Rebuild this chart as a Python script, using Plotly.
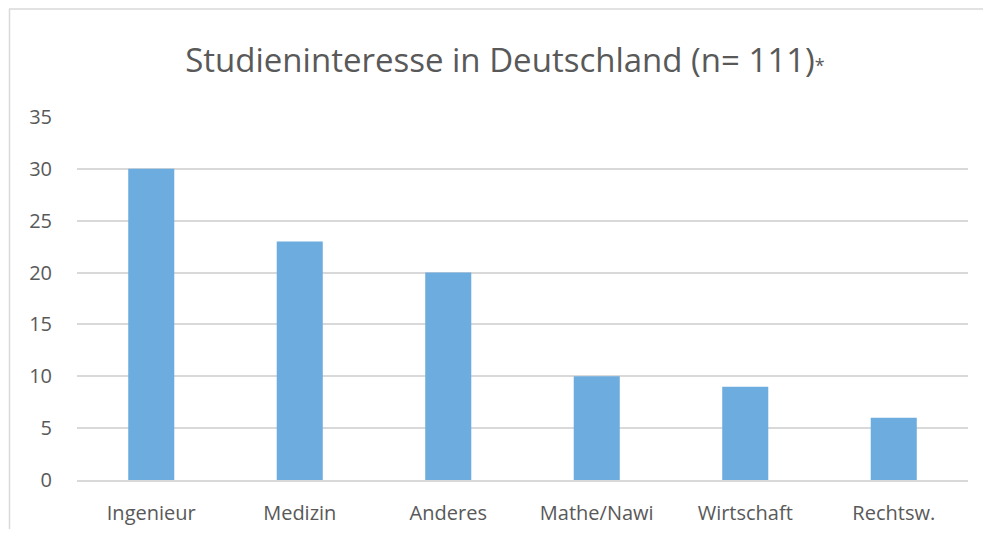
import plotly.graph_objects as go

categories = ["Ingenieur", "Medizin", "Anderes", "Mathe/Nawi", "Wirtschaft", "Rechtsw."]
values = [30, 23, 20, 10, 9, 6]
y_ticks = [0, 5, 10, 15, 20, 25, 30, 35]

W, H = 983, 521
L, R, T, B = 69, 23, 109, 49
pw, ph = W - L - R, H - T - B

fig = go.Figure(go.Bar(x=categories, y=values, marker_color="#6DACDE", width=0.31,
                       marker_line_width=0))

fig.update_layout(
    width=W, height=H,
    paper_bgcolor="white", plot_bgcolor="white",
    margin=dict(l=L, r=R, t=T, b=B, autoexpand=False),
    font=dict(family="Open Sans", color="#595959", size=20),
    title=dict(text="Studieninteresse in Deutschland (n= 111)<span style='font-size:18px'>*</span>",
               x=497 / W, xanchor="center", xref="container", y=1 - 52 / H, yanchor="middle",
               font=dict(size=33, color="#595959", family="Open Sans")),
    showlegend=False,
    shapes=[
        dict(type="line", xref="paper", yref="paper", x0=(1 - L) / pw, x1=(W - L) / pw,
             y0=(H - B - 1) / ph, y1=(H - B - 1) / ph, line=dict(color="#D9D9D9", width=1.5)),
        dict(type="line", xref="paper", yref="paper", x0=(1.5 - L) / pw, x1=(1.5 - L) / pw,
             y0=-B / ph, y1=(H - B - 1) / ph, line=dict(color="#D9D9D9", width=1.5)),
    ],
)
fig.update_yaxes(range=[0, 35], tickvals=y_ticks, showgrid=True, gridcolor="#D9D9D9", gridwidth=1.5,
                 zeroline=False, showline=False, ticklabelstandoff=24, tickfont=dict(size=20),
                 automargin=False)
fig.update_xaxes(showline=True, linecolor="#D9D9D9", linewidth=1.5, ticklabelstandoff=14,
                 tickfont=dict(size=20), automargin=False)

fig.write_html("out.html")
